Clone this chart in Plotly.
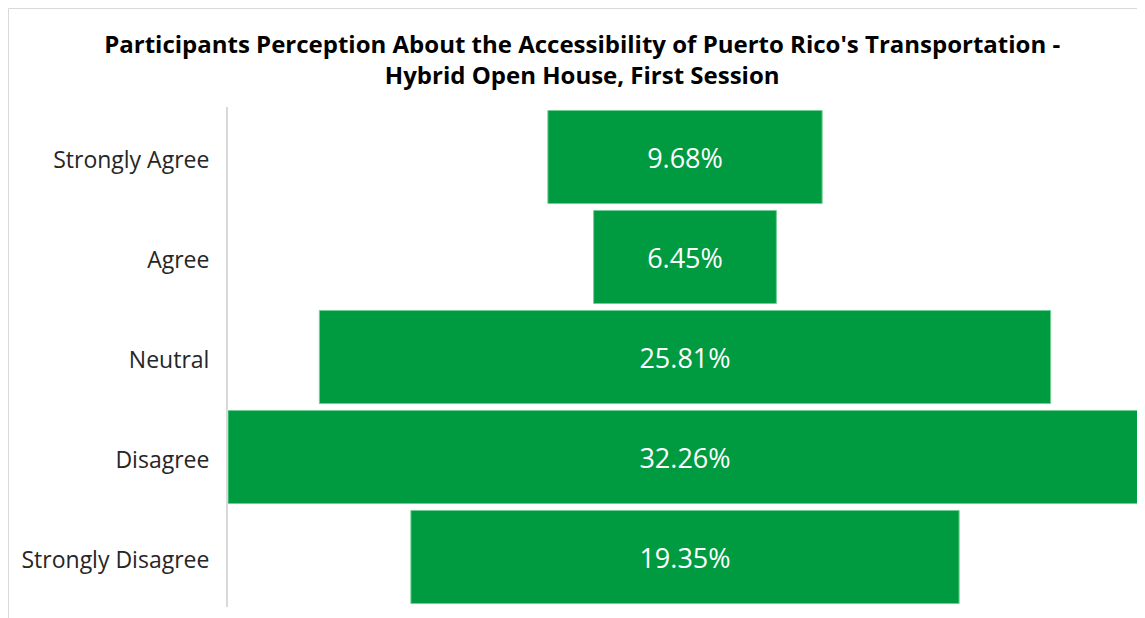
import plotly.graph_objects as go

# Datos del gráfico (porcentaje de participantes por respuesta)
categorias = ["Strongly Agree", "Agree", "Neutral", "Disagree", "Strongly Disagree"]
porcentajes = [9.68, 6.45, 25.81, 32.26, 19.35]

titulo = ("Participants Perception About the Accessibility of Puerto Rico's Transportation -"
          "<br>Hybrid Open House, First Session")

verde = "#009B40"
# la página agrega 8px de margen al cuerpo, se compensa aquí
W, H = 1137, 610
m_l, m_r, m_t, m_b = 220, 3, 99, 11

fig = go.Figure()
fig.add_trace(go.Funnel(
    y=categorias,
    x=porcentajes,
    texttemplate="%{x:.2f}%",
    textposition="inside",
    insidetextanchor="middle",
    textfont=dict(color="white", size=27, family="Open Sans"),
    marker=dict(color=verde, line=dict(color="#6fcf93", width=1)),
    connector=dict(visible=False),
    hoverinfo="y+x",
))

# borde exterior del área del gráfico (como en Excel)
pw = W - m_l - m_r
ph = H - m_t - m_b
fig.add_shape(
    type="rect", xref="paper", yref="paper",
    x0=(0.5 - m_l) / pw, x1=(W + 10 - m_l) / pw,
    y0=(H - m_b - (H + 10)) / ph, y1=(H - m_b - 0.5) / ph,
    line=dict(color="#d9d9d9", width=1), fillcolor="rgba(0,0,0,0)", layer="below",
)

mitad = max(porcentajes) / 2
fig.update_layout(
    width=W, height=H,
    margin=dict(l=m_l, r=m_r, t=m_t, b=m_b),
    paper_bgcolor="white", plot_bgcolor="white",
    title=dict(
        text="<b>" + titulo + "</b>",
        x=0.505, xanchor="center", y=0.926, yanchor="middle",
        font=dict(family="Open Sans", size=24, color="black"),
    ),
    uniformtext=dict(minsize=27, mode="show"),
    funnelgap=0.07,
    showlegend=False,
    xaxis=dict(range=[-mitad, mitad], visible=False, fixedrange=True),
    yaxis=dict(
        showline=True, linecolor="#d9d9d9", linewidth=2,
        ticks="", ticklabelstandoff=12, ticklabelshift=-3,
        tickfont=dict(family="Open Sans", size=23, color="#262626"),
    ),
)

fig.write_html("out.html")
